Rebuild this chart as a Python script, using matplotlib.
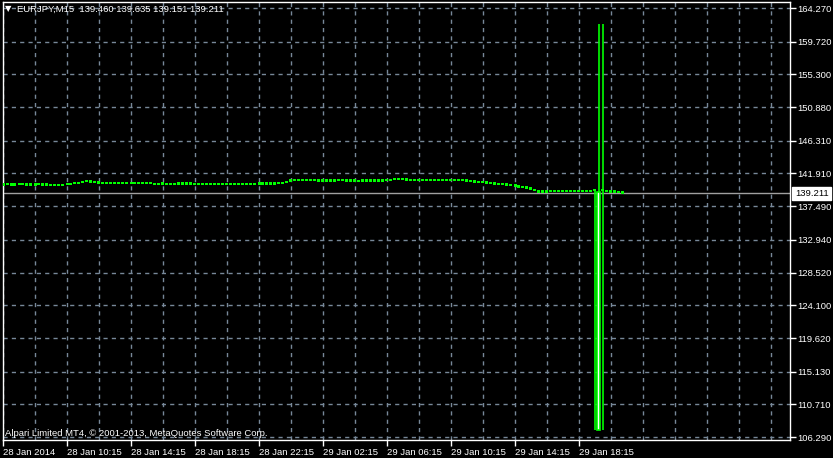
import matplotlib
matplotlib.use("Agg")
import matplotlib.pyplot as plt
from matplotlib.patches import Rectangle

plt.rcParams["font.family"] = ["Liberation Sans", "DejaVu Sans"]

# ---------------- data ----------------
symbol_header = "EURJPY,M15  139.460 139.635 139.151 139.211"
copyright_text = "Alpari Limited MT4, \u00a9 2001-2013, MetaQuotes Software Corp."

close = [
    140.44, 140.45, 140.43, 140.44, 140.46, 140.44, 140.42, 140.43, 140.45, 140.44, 140.43, 140.40, 140.38,
    140.36, 140.37, 140.40,
    140.50, 140.55, 140.62, 140.70, 140.85, 140.90, 140.78, 140.70, 140.64,
    140.60, 140.58, 140.60, 140.62, 140.58, 140.60, 140.59, 140.61, 140.60, 140.57, 140.63, 140.66, 140.52,
    140.50, 140.54, 140.52, 140.48, 140.50, 140.52, 140.56, 140.58,
    140.55, 140.52, 140.50, 140.49, 140.51, 140.50, 140.52, 140.50, 140.49, 140.51, 140.53, 140.50, 140.48,
    140.50, 140.51, 140.49, 140.50, 140.52, 140.54, 140.52, 140.55, 140.56, 140.58, 140.62, 140.60,
    140.85, 141.02, 141.06, 141.00,
    141.02, 141.00, 141.01, 140.98, 140.96, 140.94, 140.93, 140.97, 140.99, 141.00,
    140.97, 140.95, 140.96, 140.94, 140.92, 140.95, 140.93, 140.96, 140.94, 140.95, 140.97, 141.00,
    141.10, 141.15, 141.16, 141.12, 141.08, 141.05, 141.03, 141.02,
    141.00, 141.01, 140.99, 141.02, 141.04, 141.00, 141.02, 140.99, 140.98, 141.00,
    140.97, 140.90, 140.84, 140.80, 140.75, 140.70, 140.65,
    140.58, 140.52, 140.47, 140.42, 140.38, 140.32,
    140.22, 140.12, 140.05, 139.95, 139.80,
    139.50, 139.45, 139.46, 139.50, 139.52, 139.55, 139.54, 139.56, 139.55, 139.53, 139.56, 139.55, 139.54,
    139.52, 139.50,
    139.48,
    139.47, 139.52,
    139.50, 139.48, 139.45, 139.40, 139.211,
]

# spike bars (index, open, high, low, close)
spike_idx = [148, 149, 150]
spike_open = [139.50, 139.45, 139.50]
spike_high = [139.52, 162.11, 162.11]
spike_low = [107.24, 107.24, 107.24]
spike_close = [139.48, 107.30, 139.52]

last_open = 139.46
current_price = 139.211

price_levels = [164.270, 159.720, 155.300, 150.880, 146.310, 141.910, 137.490,
                132.940, 128.520, 124.100, 119.620, 115.130, 110.710, 106.290]
price_labels = ["164.270", "159.720", "155.300", "150.880", "146.310", "141.910", "137.490",
                "132.940", "128.520", "124.100", "119.620", "115.130", "110.710", "106.290"]

time_ticks = [0, 16, 32, 48, 64, 80, 96, 112, 128, 144]
time_labels = ["28 Jan 2014", "28 Jan 10:15", "28 Jan 14:15", "28 Jan 18:15", "28 Jan 22:15",
               "29 Jan 02:15", "29 Jan 06:15", "29 Jan 10:15", "29 Jan 14:15", "29 Jan 18:15"]

# ---------------- figure ----------------
W, H = 833, 458
FS = 6.8
fig = plt.figure(figsize=(W / 100, H / 100), dpi=100, facecolor="black")
ax = fig.add_axes([2.5 / W, (H - 440) / H, (790 - 2.5) / W, 438 / H])
ax.set_facecolor("black")

GREEN = "#00ff00"
GRID = "#778899"

ax.set_xlim(-0.125, 196.75)
ax.set_ylim(105.886, 165.081)

# grid
ax.set_xticks(time_ticks)
ax.set_xticks(list(range(0, 197, 8)), minor=True)
ax.set_yticks(price_levels)
ax.grid(which="both", color=GRID, linestyle=(0, (3, 3)), linewidth=1)
ax.set_axisbelow(True)

# current price line
ax.axhline(current_price, color="#a0a0a0", linewidth=1, zorder=1)

# regular bars
minh = 0.32
for i, c in enumerate(close):
    if i in spike_idx:
        continue
    o = close[i - 1] if i > 0 else c
    if i == len(close) - 1:
        o = last_open
    lo, hi = min(o, c), max(o, c)
    h = max(hi - lo, minh)
    ax.bar(i, h, bottom=lo - (h - (hi - lo)) / 2, width=0.75, color=GREEN, linewidth=0, zorder=3)

# spike bars
for k, i in enumerate(spike_idx):
    ax.vlines(i, spike_low[k], spike_high[k], color=GREEN, linewidth=1.2, zorder=3)
    o, c = spike_open[k], spike_close[k]
    lo, hi = min(o, c), max(o, c)
    if hi - lo > 1:
        ax.add_patch(Rectangle((i - 0.375, lo), 0.75, hi - lo, facecolor="white",
                               edgecolor=GREEN, linewidth=1.2, zorder=4))
    else:
        h = max(hi - lo, minh)
        ax.bar(i, h, bottom=lo, width=0.75, color=GREEN, linewidth=0, zorder=3)

# spines
for s in ax.spines.values():
    s.set_color("white")
    s.set_linewidth(1)

# axes ticks
ax.yaxis.tick_right()
ax.set_yticklabels(price_labels)
ax.tick_params(axis="y", which="major", direction="out", length=4, width=1, color="white",
               labelcolor="white", labelsize=FS, pad=1.5)
ax.set_xticklabels(time_labels, ha="left")
ax.tick_params(axis="x", which="major", direction="out", length=4, width=1, color="white",
               labelcolor="white", labelsize=FS, pad=1.5)
ax.tick_params(axis="x", which="minor", length=0)

# current price box
ax.annotate(f"{current_price:.3f}", xy=(1.0, current_price), xycoords=("axes fraction", "data"),
            xytext=(3.5, 0), textcoords="offset points", ha="left", va="center",
            fontsize=FS, color="black",
            bbox=dict(boxstyle="square,pad=0.25", facecolor="white", edgecolor="white"),
            zorder=10, annotation_clip=False)

# header
fig.text(5 / W, 1 - 9 / H, "\u25bc", color="white", fontsize=6, ha="left", va="center",
         family="DejaVu Sans")
fig.text(17 / W, 1 - 9 / H, symbol_header, color="white", fontsize=FS,
         ha="left", va="center")
fig.text(5 / W, 1 - 433 / H, copyright_text, color="white", fontsize=FS,
         ha="left", va="center")

fig.savefig("out.png", dpi=100, facecolor="black")
